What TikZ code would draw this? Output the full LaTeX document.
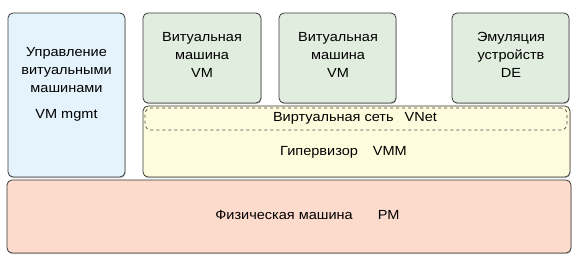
\documentclass[tikz,border=0pt]{standalone}
\usepackage{fontspec}
\setmainfont{Liberation Sans}[FakeStretch=1.1]
\usepackage{xcolor}
\usetikzlibrary{shadows}

\definecolor{mgmtblue}{HTML}{E4F3FC}
\definecolor{vmgreen}{HTML}{E1EEDF}
\definecolor{hypyellow}{HTML}{FFFCDD}
\definecolor{pmpink}{HTML}{FCDBCC}

\begin{document}
\begin{tikzpicture}[x=1pt, y=-1pt, every node/.style={font=\fontsize{13.2}{18}\selectfont, align=center},
  box/.style={draw=black!78, line width=0.8pt, rounded corners=5pt, inner sep=0pt, drop shadow={shadow xshift=0.5pt, shadow yshift=-1.2pt, opacity=0.35, fill=black!60}},
  netbox/.style={draw=black!72, line width=0.7pt, dashed, rounded corners=6pt, inner sep=0pt}]
  \useasboundingbox (0,0) rectangle (580,264);
  % boxes
  \node[box, fill=mgmtblue, minimum width=117pt, minimum height=164pt] (mgmt) at (66.5,95) {};
  \node[box, fill=vmgreen, minimum width=118pt, minimum height=90pt] (vm1) at (202,58) {};
  \node[box, fill=vmgreen, minimum width=117pt, minimum height=90pt] (vm2) at (337.5,58) {};
  \node[box, fill=vmgreen, minimum width=117pt, minimum height=90pt] (de) at (510.5,58) {};
  \node[box, fill=hypyellow, minimum width=427pt, minimum height=71pt] (hyp) at (356.5,141.5) {};
  \node[netbox, minimum width=422pt, minimum height=22pt] (vnet) at (356,119) {};
  \node[box, fill=pmpink, minimum width=564pt, minimum height=73pt] (pm) at (289,216.5) {};
  % texts
  \node (mgmt-txt) at (66.5,84) {Управление\\витуальными\\машинами\\[8pt]VM mgmt};
  \node (vm1-txt) at (202,55) {Витуальная\\машина\\VM};
  \node (vm2-txt) at (338,55) {Витуальная\\машина\\VM};
  \node (de-txt) at (511,55) {Эмуляция\\устройств\\DE};
  \node (vnet-txt) at (355,118) {Виртуальная сеть\hspace{11pt}VNet};
  \node (hyp-txt) at (343.5,152) {Гипервизор\hspace{15pt}VMM};
  \node (pm-txt) at (307.5,215) {Физическая машина\hspace{25pt}PM};
\end{tikzpicture}
\end{document}
